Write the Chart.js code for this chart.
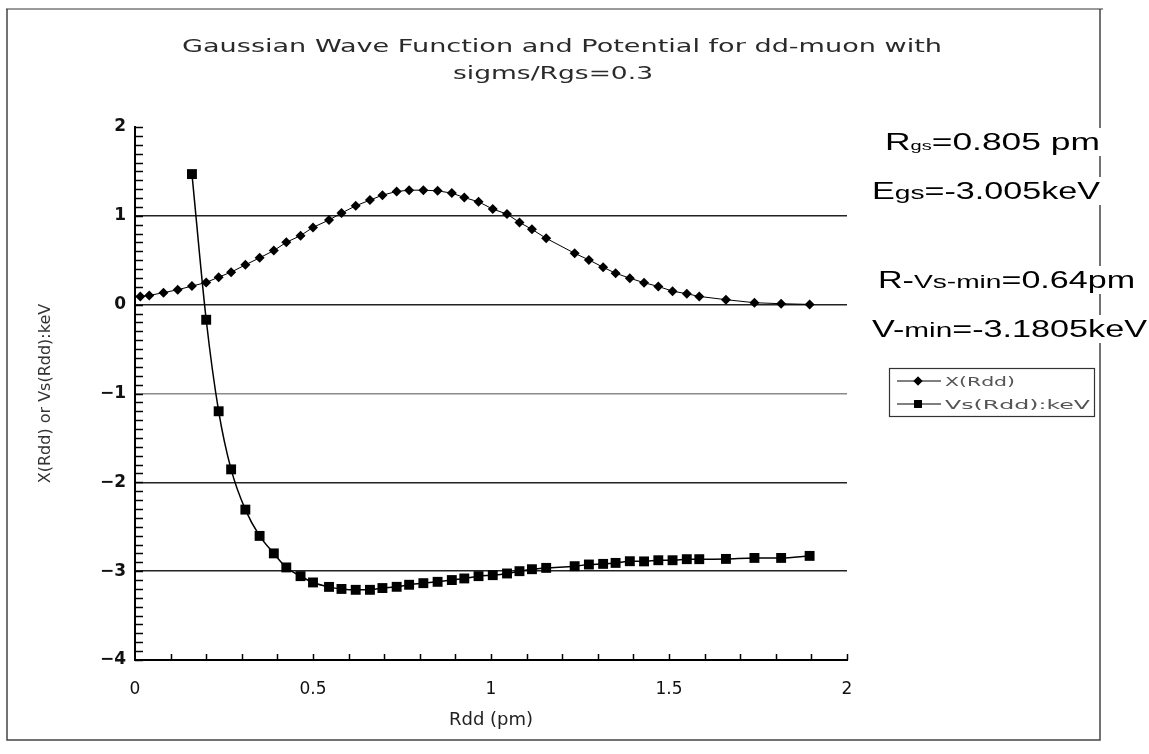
<!DOCTYPE html>
<html><head><meta charset="utf-8">
<script src="https://cdn.jsdelivr.net/npm/chart.js@4.4.0/dist/chart.umd.min.js"></script>
<style>html,body{margin:0;padding:0;background:#fff;}#wrap{position:relative;width:1149px;height:754px;}</style>
</head><body><div id="wrap"><canvas id="c" width="1149" height="754"></canvas></div>
<script>
// ---- data ----
const rdd = [0.015,0.04,0.08,0.12,0.16,0.20,0.235,0.27,0.31,0.35,0.39,0.425,0.465,0.50,0.545,0.58,0.62,0.66,0.695,0.735,0.77,0.81,0.85,0.89,0.925,0.965,1.005,1.045,1.08,1.115,1.155,1.235,1.275,1.315,1.35,1.39,1.43,1.47,1.51,1.55,1.585,1.66,1.74,1.815,1.895];
const waveX = [0.093,0.104,0.135,0.168,0.209,0.25,0.31,0.366,0.448,0.527,0.609,0.702,0.777,0.87,0.953,1.031,1.113,1.177,1.233,1.274,1.289,1.289,1.281,1.256,1.206,1.158,1.076,1.02,0.926,0.848,0.747,0.578,0.504,0.421,0.354,0.298,0.247,0.205,0.152,0.123,0.093,0.056,0.022,0.011,0.003];
const potentialV = [null,null,null,null,1.47,-0.17,-1.20,-1.854,-2.307,-2.603,-2.80,-2.958,-3.056,-3.127,-3.177,-3.20,-3.21,-3.21,-3.19,-3.176,-3.153,-3.135,-3.12,-3.10,-3.082,-3.056,-3.045,-3.026,-3.0,-2.978,-2.963,-2.944,-2.925,-2.918,-2.907,-2.888,-2.89,-2.877,-2.877,-2.865,-2.865,-2.862,-2.851,-2.851,-2.828];
const seriesNames = ['X(Rdd)', 'Vs(Rdd):keV'];
const xTickValues = [0, 0.5, 1, 1.5, 2];
const yTickValues = [-4, -3, -2, -1, 0, 1, 2];
const titleLines = ['Gaussian Wave Function and Potential for dd-muon with', 'sigms/Rgs=0.3'];
const xAxisTitle = 'Rdd (pm)';
const yAxisTitle = 'X(Rdd) or Vs(Rdd):keV';
const annotations = [
  [{t:'R',s:23},{t:'gs',s:13},{t:'=0.805 pm',s:23}],
  [{t:'E',s:23},{t:'gs',s:19},{t:'=-3.005keV',s:23}],
  [{t:'R-',s:23},{t:'Vs-min',s:19},{t:'=0.64pm',s:23}],
  [{t:'V-',s:23},{t:'min',s:20},{t:'=-3.1805keV',s:23}]
];

const toPts = (ys) => rdd.map((x, i) => ({x: x, y: ys[i]})).filter(p => p.y !== null);

const FONT = '"DejaVu Sans", "Liberation Sans", sans-serif';

function drawStretched(ctx, parts, x, yBase, targetW, family, color, weight) {
  ctx.save();
  const w = weight ? weight + ' ' : '';
  let natural = 0;
  parts.forEach(p => { ctx.font = w + p.s + 'px ' + family; natural += ctx.measureText(p.t).width; });
  const sx = targetW / natural;
  ctx.translate(x, yBase);
  ctx.scale(sx, 1);
  ctx.fillStyle = color;
  ctx.textBaseline = 'alphabetic';
  ctx.textAlign = 'left';
  let cx = 0;
  parts.forEach(p => { ctx.font = w + p.s + 'px ' + family; ctx.fillText(p.t, cx, 0); cx += ctx.measureText(p.t).width; });
  ctx.restore();
}

const decor = {
  id: 'decor',
  beforeDraw(chart) {
    const ctx = chart.ctx;
    ctx.save();
    ctx.fillStyle = '#fff';
    ctx.fillRect(0, 0, chart.width, chart.height);
    // outer frame
    ctx.strokeStyle = '#9a9a9a'; ctx.lineWidth = 2;
    ctx.beginPath(); ctx.moveTo(6, 9); ctx.lineTo(1103, 9); ctx.stroke();
    ctx.strokeStyle = '#444'; ctx.lineWidth = 1.5;
    ctx.beginPath(); ctx.moveTo(7, 9); ctx.lineTo(7, 740); ctx.lineTo(1100, 740); ctx.lineTo(1100, 9); ctx.stroke();
    // title
    const tl = [{x:562, y:52, w:760}, {x:553, y:79, w:200}];
    titleLines.forEach((t, i) => {
      drawStretched(ctx, [{t:t, s:18}], tl[i].x - tl[i].w/2, tl[i].y, tl[i].w, FONT, '#2a2a2a');
    });
    ctx.restore();
  },
  afterDraw(chart) {
    const ctx = chart.ctx;
    const xs = chart.scales.x, ys = chart.scales.y;
    ctx.save();
    // minor ticks on y axis (inside)
    ctx.strokeStyle = '#000'; ctx.lineWidth = 1.5;
    for (let k = -40; k <= 20; k++) {
      const py = Math.round(ys.getPixelForValue(k / 10)) + 0.5;
      ctx.beginPath(); ctx.moveTo(xs.left, py); ctx.lineTo(xs.left + 8, py); ctx.stroke();
    }
    // minor ticks on x axis (inside)
    for (let k = 1; k <= 20; k++) {
      const px = Math.round(xs.getPixelForValue(k / 10)) + 0.5;
      ctx.beginPath(); ctx.moveTo(px, ys.bottom); ctx.lineTo(px, ys.bottom - 6); ctx.stroke();
    }
    // annotations
    const ann = [{x:885, y:150, w:215}, {x:872, y:199, w:228}, {x:878, y:288, w:257}, {x:872, y:337, w:275}];
    ann.forEach((a, i) => {
      ctx.fillStyle = '#fff';
      ctx.fillRect(a.x - 2, a.y - 22, a.w + 4, 28);
      drawStretched(ctx, annotations[i], a.x, a.y, a.w, '"Liberation Sans", Arial, sans-serif', '#000');
    });
    // legend box
    const lx = 889, ly = 368, lw = 205, lh = 48;
    ctx.fillStyle = '#fff'; ctx.fillRect(lx, ly, lw, lh);
    ctx.strokeStyle = '#333'; ctx.lineWidth = 1.2; ctx.strokeRect(lx + 0.5, ly + 0.5, lw, lh);
    chart.data.datasets.forEach((ds, i) => {
      const cy = ly + 13 + i * 23;
      ctx.strokeStyle = '#000'; ctx.lineWidth = 1;
      ctx.beginPath(); ctx.moveTo(897, cy); ctx.lineTo(941, cy); ctx.stroke();
      ctx.fillStyle = '#000';
      Chart.helpers.drawPoint(ctx, {pointStyle: ds.pointStyle, radius: i === 0 ? 4.5 : 5.5, rotation: 0, borderWidth: 0}, 918, cy);
      ctx.fill();
      drawStretched(ctx, [{t: ds.label, s: 13}], 945, cy + 5, i === 0 ? 70 : 145, FONT, '#555');
    });
    ctx.restore();
  }
};

new Chart(document.getElementById('c'), {
  type: 'scatter',
  data: {
    datasets: [
      { label: seriesNames[0], data: toPts(waveX), showLine: true, borderColor: '#000', backgroundColor: '#000', borderWidth: 1,
        pointStyle: 'rectRot', pointRadius: 5, pointBorderWidth: 0, tension: 0 },
      { label: seriesNames[1], data: toPts(potentialV), showLine: true, borderColor: '#000', backgroundColor: '#000', borderWidth: 1.5,
        pointStyle: 'rect', pointRadius: 7, pointBorderWidth: 0, cubicInterpolationMode: 'monotone' }
    ]
  },
  options: {
    responsive: false, animation: false, devicePixelRatio: 1,
    layout: { padding: { left: 0, right: 302, top: 127, bottom: 0 } },
    plugins: { legend: { display: false }, title: { display: false }, tooltip: { enabled: false } },
    scales: {
      x: {
        type: 'linear', min: 0, max: 2,
        afterBuildTicks: (s) => { s.ticks = xTickValues.map(v => ({value: v})); },
        afterFit: (s) => { s.height = 94; },
        ticks: { font: { family: FONT, size: 17 }, color: '#111', padding: 19, maxRotation: 0, autoSkip: false,
                 callback: (v) => String(v) },
        grid: { display: false, drawTicks: false },
        border: { display: true, color: '#000', width: 2 },
        title: { display: true, text: xAxisTitle, font: { family: FONT, size: 18 }, color: '#222', padding: { top: 0, bottom: 23 } }
      },
      y: {
        type: 'linear', min: -4, max: 2,
        afterBuildTicks: (s) => { s.ticks = yTickValues.map(v => ({value: v})); },
        afterFit: (s) => { s.width = 135; },
        ticks: { font: { family: FONT, size: 17, weight: 'bold' }, color: '#111', padding: 9, autoSkip: false,
                 callback: (v) => String(v).replace('-', '\u2212') },
        grid: { drawTicks: false, lineWidth: 1.4,
                color: (c) => (c.tick && (c.tick.value === 2 || c.tick.value === -4)) ? 'rgba(0,0,0,0)' : (c.tick && c.tick.value === -1 ? '#8a8a8a' : '#222') },
        border: { display: true, color: '#000', width: 2 },
        title: { display: true, text: yAxisTitle, font: { family: FONT, size: 16 }, color: '#333', padding: { top: 36, bottom: 0 } }
      }
    }
  },
  plugins: [decor]
});
</script>
</body></html>
